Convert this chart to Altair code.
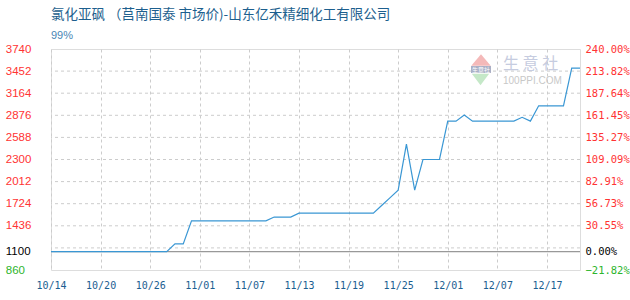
import altair as alt
import pandas as pd

# ---------------- data ----------------
dates = [
    "10/14", "10/15", "10/16", "10/17", "10/18", "10/19", "10/20", "10/21", "10/22", "10/23",
    "10/24", "10/25", "10/26", "10/27", "10/28", "10/29", "10/30", "10/31",
    "11/01", "11/02", "11/03", "11/04", "11/05", "11/06", "11/07", "11/08", "11/09", "11/10",
    "11/11", "11/12", "11/13", "11/14", "11/15", "11/16", "11/17", "11/18", "11/19", "11/20",
    "11/21", "11/22", "11/23", "11/24", "11/25", "11/26", "11/27", "11/28", "11/29", "11/30",
    "12/01", "12/02", "12/03", "12/04", "12/05", "12/06", "12/07",
    "12/10", "12/11", "12/12", "12/13", "12/16", "12/17",
    "12/18", "12/19", "12/20", "12/23",
]
prices = [
    1100, 1100, 1100, 1100, 1100, 1100, 1100, 1100, 1100, 1100,
    1100, 1100, 1100, 1100, 1100, 1200, 1200, 1500, 1500, 1500,
    1500, 1500, 1500, 1500, 1500, 1500, 1500, 1550, 1550, 1550,
    1600, 1600, 1600, 1600, 1600, 1600, 1600, 1600, 1600, 1600,
    1700, 1800, 1900, 2500, 1900, 2300, 2300, 2300, 2800, 2800,
    2880, 2800, 2800, 2800, 2800, 2800, 2800, 2850, 2800, 3000,
    3000, 3000, 3000, 3490, 3490,
]
left_ticks = [3740, 3452, 3164, 2876, 2588, 2300, 2012, 1724, 1436, 1100, 860]
grid_levels = [3452, 3164, 2876, 2588, 2300, 2012, 1724, 1436, 1148]
x_labels = ["10/14", "10/20", "10/26", "11/01", "11/07", "11/13", "11/19",
            "11/25", "12/01", "12/07", "12/17"]
base_price = [1100]
y_domain = [860, 3740]
title_text = "氯化亚砜 （莒南国泰 市场价)-山东亿禾精细化工有限公司"
subtitle_text = "99%"

df = pd.DataFrame({"date": dates, "price": prices})
grid_df = pd.DataFrame({"level": grid_levels})
base_df = pd.DataFrame({"price": base_price})

label_color = {
    "condition": [
        {"test": "datum.value < 1000", "value": "#2db52d"},
        {"test": "datum.value < 1200", "value": "#000000"},
    ],
    "value": "#ff3333",
}

y_scale = alt.Scale(domain=y_domain, nice=False, zero=False)

left_axis = alt.Axis(
    orient="left", values=left_ticks, grid=False, ticks=False, tickSize=0,
    domain=False, labelAlign="left", labelPadding=45.7, labelColor=label_color,
    labelFont="Liberation Sans", labelFontSize=11.5, labelOverlap=False, title=None,
    format="d",
)
right_axis = alt.Axis(
    orient="right", values=left_ticks, grid=False, ticks=False, tickSize=0,
    domain=False, labelAlign="left", labelPadding=5, labelColor=label_color,
    labelFont="DejaVu Sans Mono", labelFontSize=10.5, labelOverlap=False, title=None,
    labelBound=False, labelFlush=False,
    labelExpr="format((datum.value - 1100) / 1100 * 100, '.2f') + '%'",
)
x_enc = alt.X(
    "date:O", sort=None, scale=alt.Scale(type="point", padding=0),
    axis=alt.Axis(
        values=x_labels, labelAngle=0, grid=True, gridDash=[3, 3], gridColor="#cccccc",
        ticks=False, tickSize=0, domain=False, labelColor="#1b5e91",
        labelFont="DejaVu Sans Mono", labelFontSize=10, labelPadding=10, title=None,
        labelOverlap=False,
    ),
)

grid = alt.Chart(grid_df).mark_rule(color="#cccccc", strokeDash=[3, 3], strokeWidth=1).encode(
    y=alt.Y("level:Q", scale=y_scale, axis=right_axis)
)

baseline = alt.Chart(base_df).mark_rule(color="#999999", strokeWidth=1.2).encode(
    y=alt.Y("price:Q", scale=y_scale, axis=left_axis)
)
line = alt.Chart(df).mark_line(color="#3a97d4", strokeWidth=1.2).encode(
    x=x_enc,
    y=alt.Y("price:Q", scale=y_scale, axis=left_axis),
)
left_group = alt.layer(baseline, line)


def text_layer(text, x, y, size, color, font, align="left"):
    return alt.Chart(pd.DataFrame({"t": [text]})).mark_text(
        align=align, baseline="middle", font=font, fontSize=size, color=color
    ).encode(x=alt.value(x), y=alt.value(y), text="t:N")


tri_up = alt.Chart(pd.DataFrame({"k": [1]})).mark_point(
    shape="M-1,0.6L1,0.6L0,-0.6Z", filled=True, size=380, color="#f4b9b9", opacity=1
).encode(x=alt.value(430), y=alt.value(11))
tri_down = alt.Chart(pd.DataFrame({"k": [1]})).mark_point(
    shape="M-1,-0.65L1,-0.65L0,0.65Z", filled=True, size=300, color="#c5e8c8", opacity=1
).encode(x=alt.value(429.5), y=alt.value(30.5))
band = alt.Chart(pd.DataFrame({"k": [1]})).mark_rect(color="#aab0c6").encode(
    x=alt.value(420), x2=alt.value(440), y=alt.value(17), y2=alt.value(24)
)
band_text = text_layer("生意社", 430, 20.5, 6, "#ffffff", "Noto Sans CJK SC", align="center")
wm_text = text_layer("生 意 社", 452, 14.5, 16, "#c6cce0", "Noto Sans CJK SC")
wm_url = text_layer("100PPI.COM", 452, 31.5, 10, "#c8c8c8", "Liberation Sans")

title = text_layer(title_text, 0, -34, 13.5, "#1d5f8e", "Noto Sans CJK SC")
subtitle = text_layer(subtitle_text, 0, -13.5, 11, "#4a86b5", "Liberation Sans")

chart = alt.layer(
    grid, tri_up, tri_down, band, band_text, wm_text, wm_url, left_group, title, subtitle
).resolve_scale(y="independent").properties(
    width=529, height=221,
    autosize=alt.AutoSizeParams(type="none"),
    padding={"left": 51, "top": 49, "right": 50, "bottom": 30},
).configure_view(stroke="#999999", strokeWidth=1.2).configure(background="#ffffff")

chart.save("out.html", embed_options={"renderer": "svg", "actions": False})
